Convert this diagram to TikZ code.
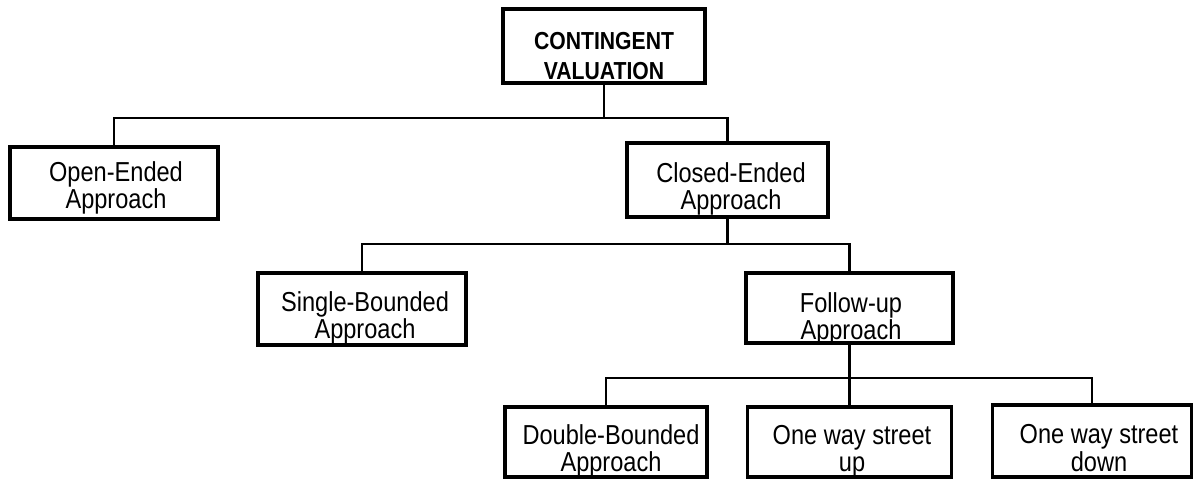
\documentclass[tikz,border=0pt]{standalone}
\usepackage{fontspec}
\usepackage{tikz}
\newfontfamily\chartfont[FakeStretch=0.86]{Liberation Sans}

\tikzset{
  box/.style={draw, line width=2.5pt, inner sep=0pt},
  txt/.style={align=center, inner sep=0pt, font=\chartfont\fontsize{19.5}{19.5}\selectfont},
  link/.style={line width=2.1pt},
}

\begin{document}
\begin{tikzpicture}[x=0.025cm, y=-0.025cm]
\useasboundingbox (0,0) rectangle (1193,480);
% boxes
\node[box, minimum width=5.05cm, minimum height=1.85cm] (cv) at (604,46) {};
\node[box, minimum width=5.2cm, minimum height=1.8cm] (open) at (114,183) {};
\node[box, minimum width=5.025cm, minimum height=1.85cm] (closed) at (727.5,180) {};
\node[box, minimum width=5.2cm, minimum height=1.8cm] (single) at (362,309) {};
\node[box, minimum width=5.175cm, minimum height=1.75cm] (follow) at (849.5,308) {};
\node[box, minimum width=5.05cm, minimum height=1.75cm] (double) at (606,442) {};
\node[box, minimum width=5.1cm, minimum height=1.75cm] (up) at (849.5,442) {};
\node[box, minimum width=4.975cm, minimum height=1.8cm] (down) at (1092,441) {};
% texts
\node[txt, font=\chartfont\bfseries\fontsize{17.5}{21}\selectfont] (cvtext) at (604,56) {CONTINGENT\\VALUATION};
\node[txt] (opentext) at (116,188) {Open-Ended\\Approach};
\node[txt] (closedtext) at (731,189) {Closed-Ended\\Approach};
\node[txt] (singletext) at (365,318) {Single-Bounded\\Approach};
\node[txt] (followtext) at (851,319) {Follow-up\\Approach};
\node[txt] (doubletext) at (611,451) {Double-Bounded\\Approach};
\node[txt] (uptext) at (852,451) {One way street\\up};
\node[txt] (downtext) at (1099,448) {One way street\\down};
% connectors
\coordinate (j1) at (604,118);
\coordinate (j2) at (727.5,244);
\coordinate (j3) at (849.5,378);
\draw[link] (cv.south) -- (j1);
\draw[link] (open.north) |- (j1) -| (closed.north);
\draw[link] (closed.south) -- (j2);
\draw[link] (single.north) |- (j2) -| (follow.north);
\draw[link] (follow.south) -- (j3);
\draw[link] (double.north) |- (j3) -| (down.north);
\draw[link] (j3) -- (up.north);
\end{tikzpicture}
\end{document}
